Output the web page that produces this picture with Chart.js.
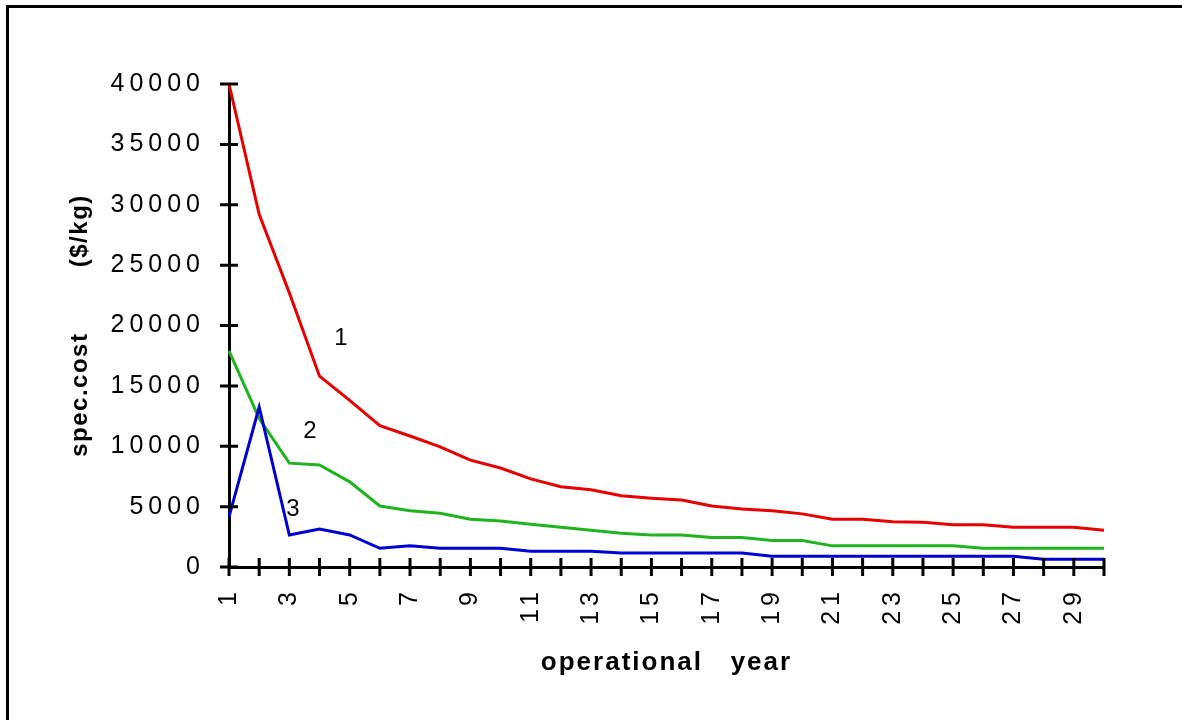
<!DOCTYPE html>
<html>
<head>
<meta charset="utf-8">
<title>spec.cost vs operational year</title>
<script src="https://cdn.jsdelivr.net/npm/chart.js@4.4.0/dist/chart.umd.min.js"></script>
<style>
  html, body { margin: 0; padding: 0; background: #ffffff; }
  #wrap { position: relative; width: 1182px; height: 720px; }
</style>
</head>
<body>
<div id="wrap"><canvas id="costChart" width="1182" height="720"></canvas></div>
<script>
// operational years on the x axis
const years = ['1', '2', '3', '4', '5', '6', '7', '8', '9', '10',
               '11', '12', '13', '14', '15', '16', '17', '18', '19', '20',
               '21', '22', '23', '24', '25', '26', '27', '28', '29', '30'];

// specific cost, $/kg
const curve1 = [40000, 29200, 22700, 15800, 13800, 11700, 10850, 9950, 8850, 8200,
                7300, 6650, 6400, 5900, 5700, 5550, 5050, 4800, 4650, 4400,
                3950, 3950, 3750, 3700, 3500, 3500, 3300, 3300, 3300, 3050];
const curve2 = [17900, 12300, 8600, 8450, 7050, 5050, 4650, 4450, 3950, 3800,
                3550, 3300, 3050, 2800, 2650, 2650, 2450, 2450, 2200, 2200,
                1750, 1750, 1750, 1750, 1750, 1550, 1550, 1550, 1550, 1550];
const curve3 = [4150, 13250, 2650, 3150, 2650, 1550, 1750, 1550, 1550, 1550,
                1300, 1300, 1300, 1150, 1150, 1150, 1150, 1150, 900, 900,
                900, 900, 900, 900, 900, 900, 900, 650, 650, 650];

const yTicks = [0, 5000, 10000, 15000, 20000, 25000, 30000, 35000, 40000];

// curve numbers written next to the lines (x = year index, y = $/kg)
const curveNames = ['1', '2', '3'];
const nameX = [3.71, 2.68, 2.12];
const nameY = [18950, 11200, 4800];

const xTitle = 'operational   year';
const yTitle = 'spec.cost        ($/kg)';

const FONT = "'Liberation Sans', Arial, Helvetica, sans-serif";

const decor = {
    id: 'decor',
    beforeDraw(chart) {
        // the old chart uses wide spaced digits
        chart.ctx.letterSpacing = '5px';
    },
    afterDraw(chart) {
        const ctx = chart.ctx;
        const { left, right, top, bottom } = chart.chartArea;
        const xs = chart.scales.x;
        const ys = chart.scales.y;
        ctx.save();

        // tick marks that cross the axes
        ctx.strokeStyle = '#000000';
        ctx.lineWidth = 3;
        ctx.beginPath();
        xs.ticks.forEach((t, i) => {
            const px = xs.getPixelForTick(i);
            ctx.moveTo(px, bottom - 9);
            ctx.lineTo(px, bottom + 9);
        });
        ys.ticks.forEach((t, i) => {
            const py = ys.getPixelForTick(i);
            ctx.moveTo(left - 9, py);
            ctx.lineTo(left + 9, py);
        });
        ctx.stroke();

        // frame around the figure
        ctx.beginPath();
        ctx.moveTo(7.5, 722);
        ctx.lineTo(7.5, 6.5);
        ctx.lineTo(1184, 6.5);
        ctx.stroke();

        // axis titles
        ctx.fillStyle = '#000000';
        ctx.letterSpacing = '2px';
        ctx.font = 'bold 26px ' + FONT;
        ctx.textAlign = 'center';
        ctx.textBaseline = 'alphabetic';
        ctx.fillText(xTitle, (left + right) / 2, 670);

        ctx.save();
        ctx.translate(80, (top + bottom) / 2);
        ctx.rotate(-Math.PI / 2);
        ctx.letterSpacing = '1.5px';
        ctx.font = 'bold 24px ' + FONT;
        ctx.textBaseline = 'middle';
        ctx.fillText(yTitle, 0, 0);
        ctx.restore();

        // curve numbers
        ctx.letterSpacing = '0px';
        ctx.font = '24px ' + FONT;
        ctx.textBaseline = 'middle';
        curveNames.forEach((name, i) => {
            ctx.fillText(name, xs.getPixelForValue(nameX[i]), ys.getPixelForValue(nameY[i]));
        });

        ctx.restore();
        ctx.letterSpacing = '0px';
    }
};

const ctx = document.getElementById('costChart').getContext('2d');
const costChart = new Chart(ctx, {
    type: 'line',
    data: {
        labels: years,
        datasets: [
            { label: '1', data: curve1, borderColor: '#e60000', order: 3 },
            { label: '2', data: curve2, borderColor: '#1fb41f', order: 2 },
            { label: '3', data: curve3, borderColor: '#0000d2', order: 1 }
        ]
    },
    options: {
        responsive: false,
        animation: false,
        layout: { padding: { left: 0, top: 84, right: 78, bottom: 0 } },
        plugins: {
            legend: { display: false },
            tooltip: { enabled: false }
        },
        elements: {
            point: { radius: 0 },
            line: { tension: 0, borderWidth: 3, fill: false }
        },
        scales: {
            x: {
                offset: false,
                grid: { display: false, drawTicks: false },
                border: { display: true, color: '#000000', width: 3 },
                ticks: {
                    autoSkip: false,
                    minRotation: 90,
                    maxRotation: 90,
                    padding: 20,
                    color: '#000000',
                    font: { family: FONT, size: 25 },
                    callback: function (value, index) {
                        return index % 2 === 0 ? this.getLabelForValue(value) : '';
                    }
                },
                afterFit: s => { s.height = 153; }
            },
            y: {
                min: 0,
                max: 40000,
                grid: { display: false, drawTicks: false },
                border: { display: true, color: '#000000', width: 3 },
                ticks: {
                    padding: 24,
                    color: '#000000',
                    font: { family: FONT, size: 25 },
                    callback: v => String(v)
                },
                afterBuildTicks: s => { s.ticks = yTicks.map(v => ({ value: v })); },
                afterFit: s => { s.width = 229; }
            }
        }
    },
    plugins: [decor]
});
</script>
</body>
</html>
